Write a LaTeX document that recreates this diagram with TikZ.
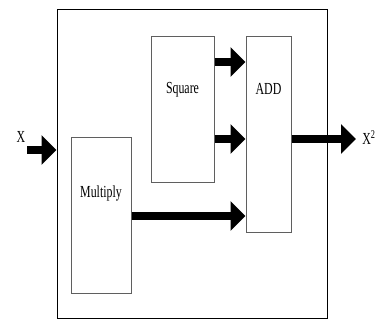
\documentclass[tikz,border=0pt]{standalone}
\usepackage{fontspec}
\usepackage{graphicx}
\setmainfont{Liberation Serif}
\usetikzlibrary{arrows.meta}
\definecolor{boxgray}{RGB}{95,95,95}
\newcommand{\tallt}[1]{\scalebox{0.95}[1.35]{#1}}

\begin{document}
\begin{tikzpicture}[x=1pt, y=1pt,
    every node/.style={font=\fontsize{12.5}{14}\selectfont},
    block/.style 2 args={draw=boxgray, line width=1pt, inner sep=0pt,
      minimum width=#1pt, minimum height=#2pt},
    fat/.style={line width=8.5pt, -{Triangle[length=15pt, width=29pt]}}]
  \useasboundingbox (0,0) rectangle (378,320);
  % Outer system box
  \node[draw, line width=1pt, inner sep=0pt, minimum width=270pt,
    minimum height=309pt] (sys) at (192,155.5) {};
  % Inner blocks
  \node[block={63}{146}, label={[anchor=center, yshift=-53pt]north:\tallt{Square}}]
    (sq) at (182.5,210) {};
  \node[block={45}{196}, label={[anchor=center, yshift=-52pt]north:\tallt{ADD}}]
    (add) at (268.5,185) {};
  \node[block={60}{156}, label={[anchor=center, yshift=-56pt]north:\tallt{Multiply}}]
    (mult) at (101,104) {};
  % Input and output
  \coordinate (in) at (27,170);
  \coordinate (out) at (356,181);
  \node (xin) at (21,183) {\tallt{X}};
  \node (xout) at (369,182) {\tallt{X\textsuperscript{2}}};
  % Arrows
  \draw[fat] (in) -- (in -| sys.west);
  \draw[fat] ([yshift=48pt]sq.east) -- ([yshift=73pt]add.west);
  \draw[fat] ([yshift=-29pt]sq.east) -- ([yshift=-4pt]add.west);
  \draw[fat] (mult.east) -- ([yshift=-81pt]add.west);
  \draw[fat] ([yshift=-4pt]add.east) -- (out);
\end{tikzpicture}
\end{document}
